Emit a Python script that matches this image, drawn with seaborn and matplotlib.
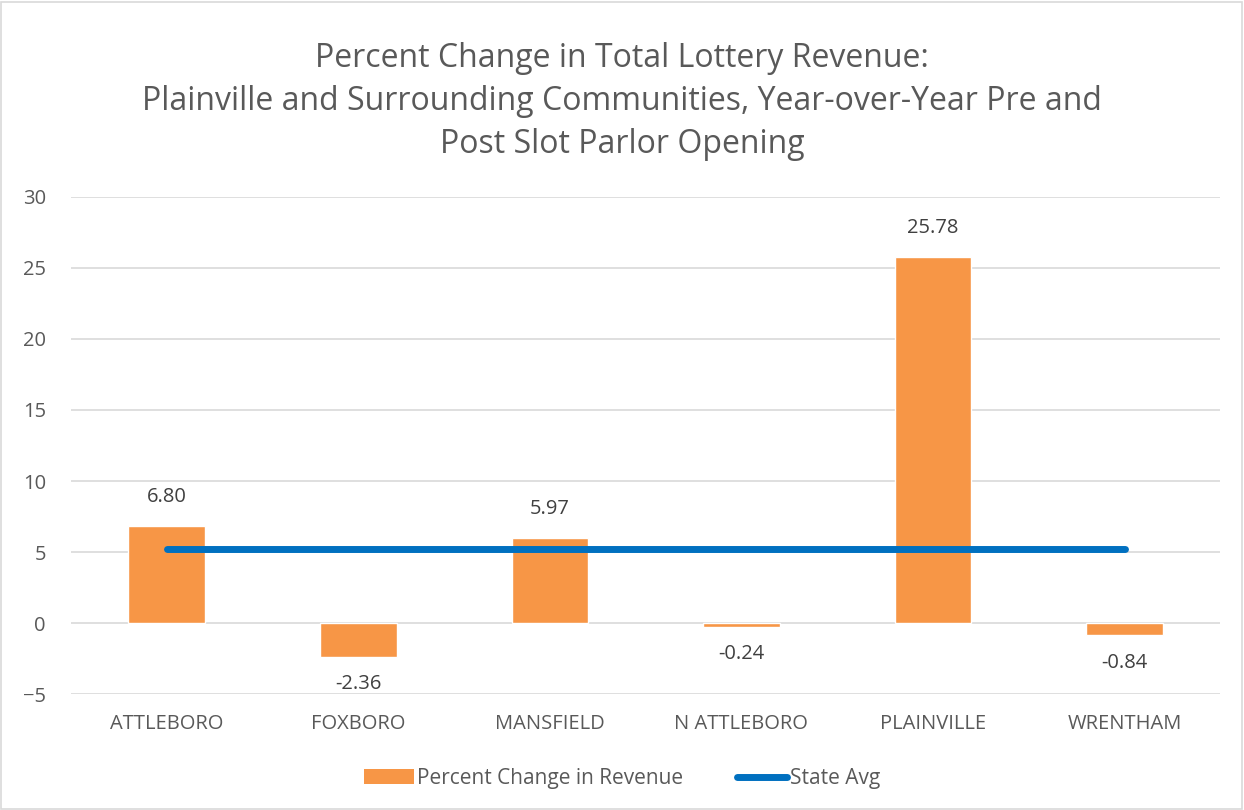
import matplotlib
matplotlib.use("Agg")
import matplotlib.pyplot as plt
import seaborn as sns
import pandas as pd
from matplotlib.patches import Rectangle, Patch
from matplotlib.lines import Line2D

communities = ["ATTLEBORO", "FOXBORO", "MANSFIELD", "N ATTLEBORO", "PLAINVILLE", "WRENTHAM"]
pct_change = [6.80, -2.36, 5.97, -0.24, 25.78, -0.84]
state_avg = [5.2, 5.2, 5.2, 5.2, 5.2, 5.2]
y_ticks = [-5, 0, 5, 10, 15, 20, 25, 30]

sns.set_theme(style="white")
plt.rcParams['font.family'] = ['Open Sans', 'DejaVu Sans']

GRAY = "#595959"
ORANGE = "#F79646"
BLUE = "#0070C0"

df = pd.DataFrame({"community": communities, "pct": pct_change, "avg": state_avg})

fig = plt.figure(figsize=(12.44, 8.10), dpi=100)
ax = fig.add_axes([0.057, 0.143, 0.924, 0.614])

sns.barplot(data=df, x="community", y="pct", color=ORANGE, width=0.4, ax=ax,
            saturation=1, zorder=2)
sns.lineplot(data=df, x="community", y="avg", color=BLUE, linewidth=5,
             solid_capstyle="round", ax=ax, zorder=3, sort=False)

ax.set_ylim(-5, 30)
ax.set_xlim(-0.5, len(communities) - 0.5)
ax.set_yticks(y_ticks)
ax.yaxis.grid(True, color="#D9D9D9", linewidth=1.2, zorder=0)
ax.set_axisbelow(True)
for s in ax.spines.values():
    s.set_visible(False)
ax.set_xlabel("")
ax.set_ylabel("")
ax.tick_params(axis="both", length=0, colors=GRAY, labelsize=14.5)
ax.tick_params(axis="x", pad=14)
ax.tick_params(axis="y", pad=18)
for lbl in ax.get_yticklabels():
    lbl.set_horizontalalignment("right")

for i, v in enumerate(pct_change):
    if v >= 0:
        ax.annotate(f"{v:.2f}", (i, v), xytext=(0, 21), textcoords="offset points",
                    ha="center", va="center", fontsize=14.5, color="#404040")
    else:
        ax.annotate(f"{v:.2f}", (i, v), xytext=(0, -20), textcoords="offset points",
                    ha="center", va="center", fontsize=14.5, color="#404040")

fig.text(0.5, 0.875,
         "Percent Change in Total Lottery Revenue:\nPlainville and Surrounding Communities, Year-over-Year Pre and\nPost Slot Parlor Opening",
         ha="center", va="center", fontsize=23, color=GRAY, linespacing=1.4)

handles = [Patch(facecolor=ORANGE, edgecolor="none"),
           Line2D([0], [0], color=BLUE, linewidth=5, solid_capstyle="round")]
fig.legend(handles, ["Percent Change in Revenue", "State Avg"], loc="center",
           bbox_to_anchor=(0.5, 0.039), ncol=2, frameon=False, fontsize=15,
           labelcolor=GRAY, handlelength=2.4, handletextpad=0.15, columnspacing=2.6)

fig.patches.append(Rectangle((0.001, 0.001), 0.997, 0.997, transform=fig.transFigure,
                             fill=False, edgecolor="#D9D9D9", linewidth=1.2))

fig.savefig("out.png", dpi=100)
